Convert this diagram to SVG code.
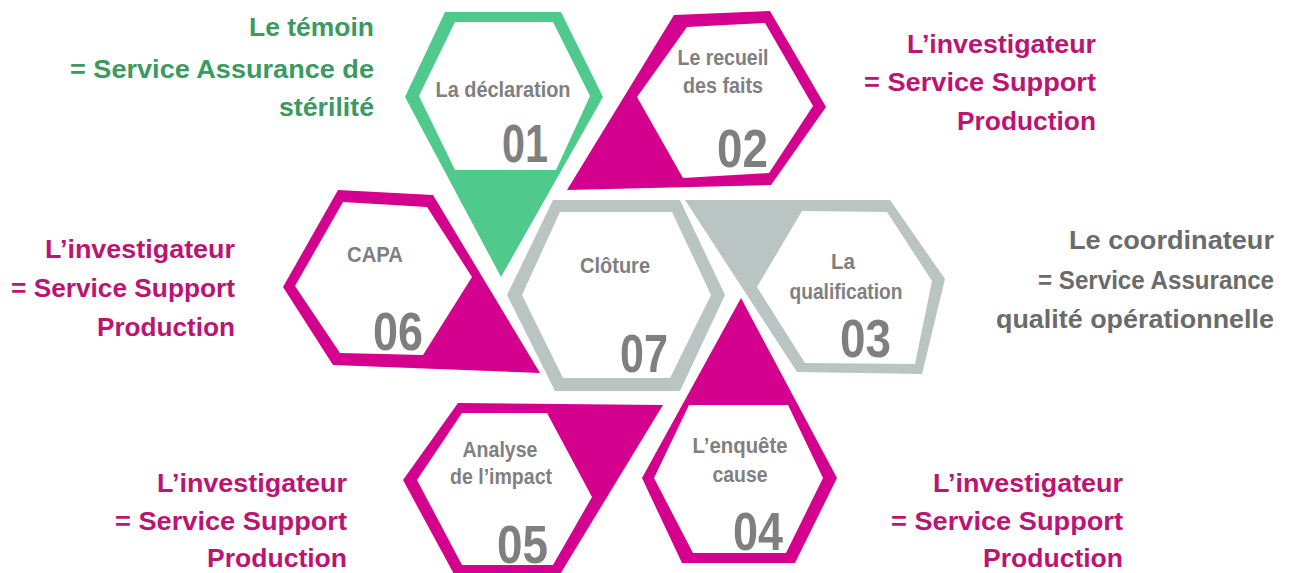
<svg xmlns="http://www.w3.org/2000/svg" width="1293" height="573" viewBox="0 0 1293 573">
<style>
.bg{fill:#ffffff}
.green{fill:#4fca8c}
.mag{fill:#d4008e}
.grey{fill:#b9c4c3}
.inner{fill:#ffffff}
.lbl{font-family:"Liberation Sans",Arial,sans-serif;font-weight:bold;font-size:22px;fill:#808080;text-anchor:middle}
.num{font-family:"Liberation Sans",Arial,sans-serif;font-weight:bold;font-size:54px;fill:#7f7f7f;text-anchor:end}
.side{font-family:"Liberation Sans",Arial,sans-serif;font-weight:bold;font-size:26px;text-anchor:end}
.tg{fill:#3a9a60}
.tm{fill:#bb1473}
.tgr{fill:#6b6b6b}
</style>
<rect class="bg" x="0" y="0" width="1293" height="573"/>

<g id="node01">
<polygon class="green" points="445,12 561,12 603,97 501,277 405,97"/>
<polygon class="inner" points="455,22 553,22 590,96 556,170 455,170 419,96"/>
<text class="lbl" x="503" y="97" textLength="135" lengthAdjust="spacingAndGlyphs">La déclaration</text>
<text class="num" x="548" y="162" textLength="46" lengthAdjust="spacingAndGlyphs">01</text>
</g>

<g id="node02">
<polygon class="mag" points="674,15 770,11 826,107 771,185 567,190"/>
<polygon class="inner" points="687,27 765,23 813,106 769,173 683,178 637,97"/>
<text class="lbl" x="723" y="65" textLength="91" lengthAdjust="spacingAndGlyphs">Le recueil</text>
<text class="lbl" x="723" y="93" textLength="80" lengthAdjust="spacingAndGlyphs">des faits</text>
<text class="num" x="768" y="167" textLength="51" lengthAdjust="spacingAndGlyphs">02</text>
</g>

<g id="node03">
<polygon class="grey" points="685,200 890,200 945,279 922,374 797,372"/>
<polygon class="inner" points="802,211 887,212 932,281 915,364 805,363 757,287"/>
<text class="lbl" x="843" y="269" textLength="24" lengthAdjust="spacingAndGlyphs">La</text>
<text class="lbl" x="846" y="299" textLength="113" lengthAdjust="spacingAndGlyphs">qualification</text>
<text class="num" x="891" y="357" textLength="51" lengthAdjust="spacingAndGlyphs">03</text>
</g>

<g id="node04">
<polygon class="mag" points="741,298 837,478 795,563 682,563 642,478"/>
<polygon class="inner" points="689,405 788,405 823,478 786,553 693,553 654,478"/>
<text class="lbl" x="740" y="453" textLength="95" lengthAdjust="spacingAndGlyphs">L’enquête</text>
<text class="lbl" x="740" y="482" textLength="55" lengthAdjust="spacingAndGlyphs">cause</text>
<text class="num" x="783" y="550" textLength="50" lengthAdjust="spacingAndGlyphs">04</text>
</g>

<g id="node05">
<polygon class="mag" points="458,403 663,405 559,576 455,576 403,480"/>
<polygon class="inner" points="462,413 547,413 592,497 553,565 462,565 417,480"/>
<text class="lbl" x="500" y="457" textLength="75" lengthAdjust="spacingAndGlyphs">Analyse</text>
<text class="lbl" x="501" y="484" textLength="102" lengthAdjust="spacingAndGlyphs">de l’impact</text>
<text class="num" x="548" y="563" textLength="51" lengthAdjust="spacingAndGlyphs">05</text>
</g>

<g id="node06">
<polygon class="mag" points="338,190 433,195 540,373 333,365 283,287"/>
<polygon class="inner" points="343,202 427,207 472,277 423,355 340,353 295,286"/>
<text class="lbl" x="375" y="262" textLength="56" lengthAdjust="spacingAndGlyphs">CAPA</text>
<text class="num" x="423" y="350" textLength="50" lengthAdjust="spacingAndGlyphs">06</text>
</g>

<g id="node07">
<polygon class="grey" points="553,200 680,200 725,295 680,391 555,391 507,295"/>
<polygon class="inner" points="560,212 672,212 711,295 670,378 563,378 522,295"/>
<text class="lbl" x="615" y="273" textLength="70" lengthAdjust="spacingAndGlyphs">Clôture</text>
<text class="num" x="668" y="372" textLength="48" lengthAdjust="spacingAndGlyphs">07</text>
</g>

<g id="connectors"></g>

<g id="label-temoin">
<text class="side tg" x="374" y="36" textLength="125" lengthAdjust="spacingAndGlyphs">Le témoin</text>
<text class="side tg" x="374" y="78" textLength="304" lengthAdjust="spacingAndGlyphs">= Service Assurance de</text>
<text class="side tg" x="374" y="116" textLength="95" lengthAdjust="spacingAndGlyphs">stérilité</text>
</g>

<g id="label-investigateur-02">
<text class="side tm" x="1096" y="53" textLength="189" lengthAdjust="spacingAndGlyphs">L’investigateur</text>
<text class="side tm" x="1096" y="91" textLength="232" lengthAdjust="spacingAndGlyphs">= Service Support</text>
<text class="side tm" x="1096" y="130" textLength="139" lengthAdjust="spacingAndGlyphs">Production</text>
</g>

<g id="label-coordinateur">
<text class="side tgr" x="1274" y="249" textLength="205" lengthAdjust="spacingAndGlyphs">Le coordinateur</text>
<text class="side tgr" x="1274" y="289" textLength="236" lengthAdjust="spacingAndGlyphs">= Service Assurance</text>
<text class="side tgr" x="1274" y="328" textLength="278" lengthAdjust="spacingAndGlyphs">qualité opérationnelle</text>
</g>

<g id="label-investigateur-06">
<text class="side tm" x="235" y="258" textLength="190" lengthAdjust="spacingAndGlyphs">L’investigateur</text>
<text class="side tm" x="235" y="297" textLength="224" lengthAdjust="spacingAndGlyphs">= Service Support</text>
<text class="side tm" x="235" y="336" textLength="138" lengthAdjust="spacingAndGlyphs">Production</text>
</g>

<g id="label-investigateur-05">
<text class="side tm" x="347" y="492" textLength="190" lengthAdjust="spacingAndGlyphs">L’investigateur</text>
<text class="side tm" x="347" y="530" textLength="232" lengthAdjust="spacingAndGlyphs">= Service Support</text>
<text class="side tm" x="347" y="567" textLength="140" lengthAdjust="spacingAndGlyphs">Production</text>
</g>

<g id="label-investigateur-04">
<text class="side tm" x="1123" y="492" textLength="190" lengthAdjust="spacingAndGlyphs">L’investigateur</text>
<text class="side tm" x="1123" y="530" textLength="232" lengthAdjust="spacingAndGlyphs">= Service Support</text>
<text class="side tm" x="1123" y="567" textLength="140" lengthAdjust="spacingAndGlyphs">Production</text>
</g>
</svg>
